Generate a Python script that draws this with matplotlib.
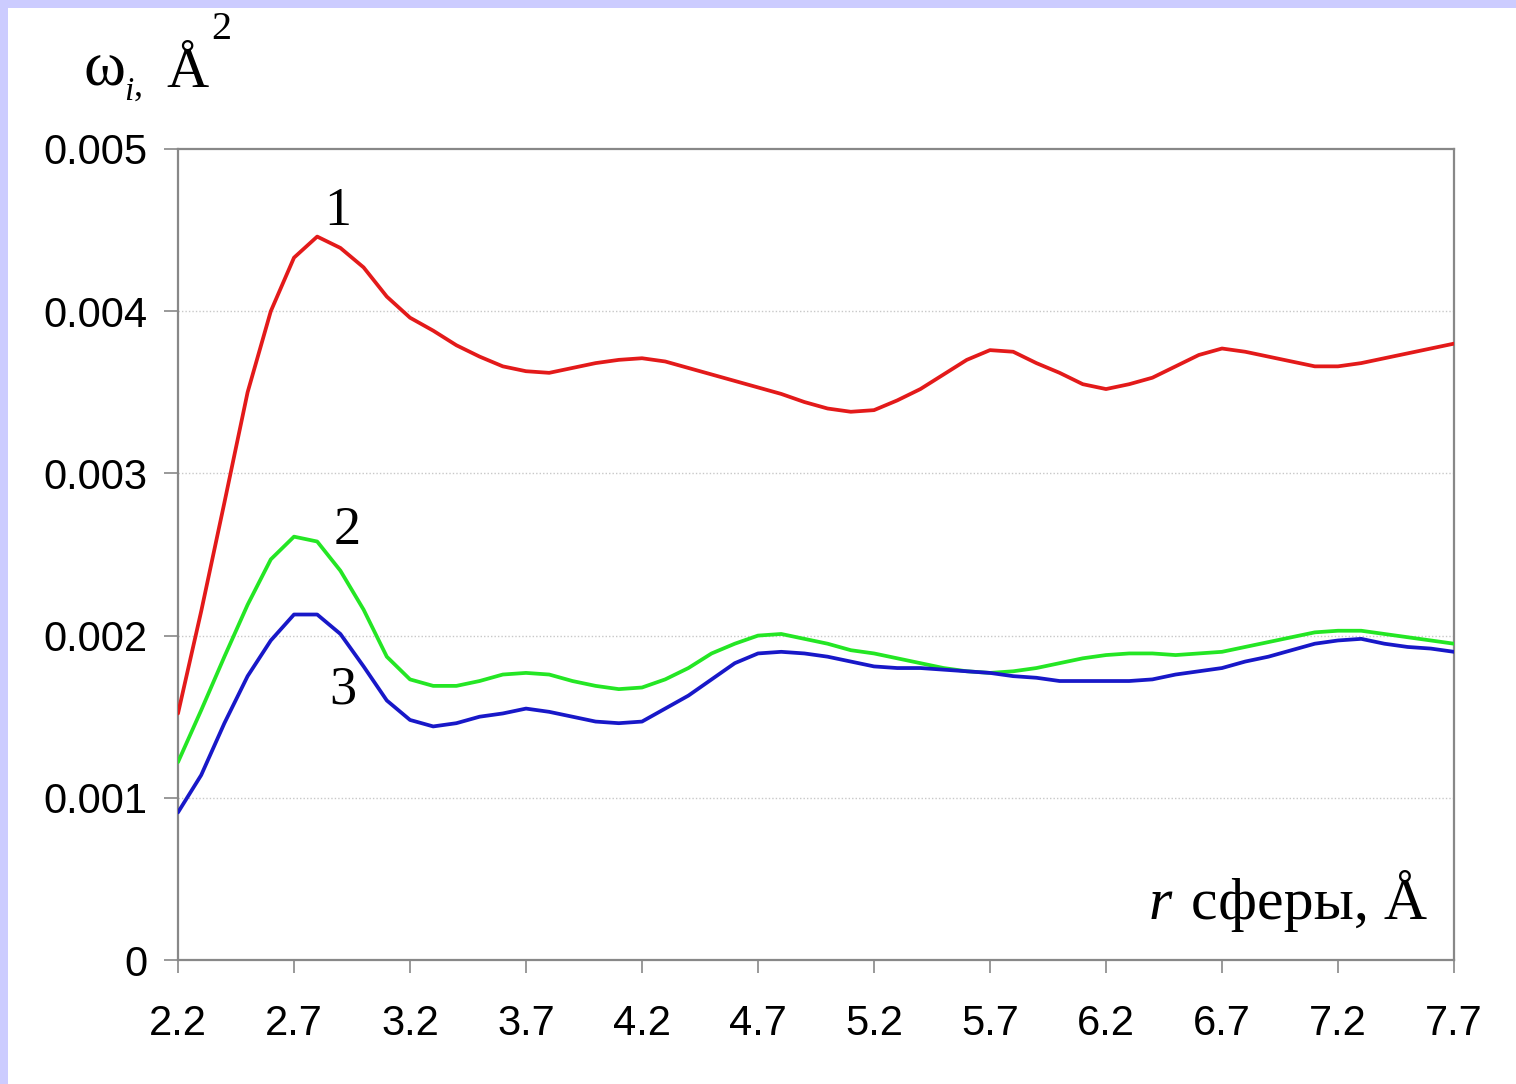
import matplotlib
matplotlib.use("Agg")
import matplotlib.pyplot as plt
from matplotlib.patches import Rectangle

r_values = [2.2, 2.3, 2.4, 2.5, 2.6, 2.7, 2.8, 2.9, 3.0, 3.1, 3.2, 3.3, 3.4, 3.5,
            3.6, 3.7, 3.8, 3.9, 4.0, 4.1, 4.2, 4.3, 4.4, 4.5, 4.6, 4.7, 4.8, 4.9,
            5.0, 5.1, 5.2, 5.3, 5.4, 5.5, 5.6, 5.7, 5.8, 5.9, 6.0, 6.1, 6.2, 6.3,
            6.4, 6.5, 6.6, 6.7, 6.8, 6.9, 7.0, 7.1, 7.2, 7.3, 7.4, 7.5, 7.6, 7.7]

series1 = [0.00152, 0.00215, 0.00282, 0.00350, 0.00400, 0.00433, 0.00446, 0.00439,
           0.00427, 0.00409, 0.00396, 0.00388, 0.00379, 0.00372, 0.00366, 0.00363,
           0.00362, 0.00365, 0.00368, 0.00370, 0.00371, 0.00369, 0.00365, 0.00361,
           0.00357, 0.00353, 0.00349, 0.00344, 0.00340, 0.00338, 0.00339, 0.00345,
           0.00352, 0.00361, 0.00370, 0.00376, 0.00375, 0.00368, 0.00362, 0.00355,
           0.00352, 0.00355, 0.00359, 0.00366, 0.00373, 0.00377, 0.00375, 0.00372,
           0.00369, 0.00366, 0.00366, 0.00368, 0.00371, 0.00374, 0.00377, 0.00380]

series2 = [0.00122, 0.00154, 0.00187, 0.00219, 0.00247, 0.00261, 0.00258, 0.00240,
           0.00216, 0.00187, 0.00173, 0.00169, 0.00169, 0.00172, 0.00176, 0.00177,
           0.00176, 0.00172, 0.00169, 0.00167, 0.00168, 0.00173, 0.00180, 0.00189,
           0.00195, 0.00200, 0.00201, 0.00198, 0.00195, 0.00191, 0.00189, 0.00186,
           0.00183, 0.00180, 0.00178, 0.00177, 0.00178, 0.00180, 0.00183, 0.00186,
           0.00188, 0.00189, 0.00189, 0.00188, 0.00189, 0.00190, 0.00193, 0.00196,
           0.00199, 0.00202, 0.00203, 0.00203, 0.00201, 0.00199, 0.00197, 0.00195]

series3 = [0.00091, 0.00114, 0.00146, 0.00175, 0.00197, 0.00213, 0.00213, 0.00201,
           0.00181, 0.00160, 0.00148, 0.00144, 0.00146, 0.00150, 0.00152, 0.00155,
           0.00153, 0.00150, 0.00147, 0.00146, 0.00147, 0.00155, 0.00163, 0.00173,
           0.00183, 0.00189, 0.00190, 0.00189, 0.00187, 0.00184, 0.00181, 0.00180,
           0.00180, 0.00179, 0.00178, 0.00177, 0.00175, 0.00174, 0.00172, 0.00172,
           0.00172, 0.00172, 0.00173, 0.00176, 0.00178, 0.00180, 0.00184, 0.00187,
           0.00191, 0.00195, 0.00197, 0.00198, 0.00195, 0.00193, 0.00192, 0.00190]

x_ticks = [2.2, 2.7, 3.2, 3.7, 4.2, 4.7, 5.2, 5.7, 6.2, 6.7, 7.2, 7.7]
x_ticklabels = ["2.2", "2.7", "3.2", "3.7", "4.2", "4.7", "5.2", "5.7", "6.2", "6.7", "7.2", "7.7"]
y_ticks = [0, 0.001, 0.002, 0.003, 0.004, 0.005]
y_ticklabels = ["0", "0.001", "0.002", "0.003", "0.004", "0.005"]
curve_labels = ["1", "2", "3"]

W, H = 1516, 1084
fig = plt.figure(figsize=(W / 100, H / 100), dpi=100)
fig.patch.set_facecolor("white")

# lavender frame on left and top
fig.patches.append(Rectangle((0, 0), 8 / W, 1, transform=fig.transFigure,
                             facecolor="#CCCCFF", edgecolor="none", zorder=0))
fig.patches.append(Rectangle((0, 1 - 8 / H), 1, 8 / H, transform=fig.transFigure,
                             facecolor="#CCCCFF", edgecolor="none", zorder=0))

L, R, T, B = 178, 1454, 149, 960
ax = fig.add_axes([L / W, 1 - B / H, (R - L) / W, (B - T) / H])

kw = dict(lw=2.7, solid_joinstyle="round", solid_capstyle="round")
ax.plot(r_values, series1, color="#E31A1A", zorder=3, **kw)
ax.plot(r_values, series2, color="#24E624", zorder=3, **kw)
ax.plot(r_values, series3, color="#1818C8", zorder=4, **kw)

ax.set_xlim(2.2, 7.7)
ax.set_ylim(0, 0.005)
ax.set_xticks(x_ticks)
ax.set_xticklabels(x_ticklabels)
ax.set_yticks(y_ticks)
ax.set_yticklabels(y_ticklabels)

for s in ax.spines.values():
    s.set_color("#888888")
    s.set_linewidth(1.6)

ax.tick_params(axis="y", direction="out", length=10, width=1.2, color="#888888",
               labelsize=30, pad=12)
ax.tick_params(axis="x", direction="out", length=9, width=1.2, color="#888888",
               labelsize=30, pad=23)
for lab in ax.get_xticklabels() + ax.get_yticklabels():
    lab.set_fontfamily("Liberation Sans")

ax.set_axisbelow(True)
for yv in y_ticks[1:-1]:
    ax.axhline(yv, color="#C8C8C8", lw=1.0, ls=(0, (1, 1.5)), zorder=1)

serif = "Liberation Serif"
# curve numbers
ax.text(2.89, 0.00446, curve_labels[0], fontsize=39, family=serif, ha="center", va="bottom")
ax.text(2.93, 0.00249, curve_labels[1], fontsize=39, family=serif, ha="center", va="bottom")
ax.text(2.91, 0.00151, curve_labels[2], fontsize=39, family=serif, ha="center", va="bottom")

def fx(px):
    return px / W

def fy(py):
    return 1 - py / H

# y axis label  ω_i, Å^2
fig.text(fx(84), fy(86), "ω", fontsize=46, family=serif, ha="left", va="baseline")
fig.text(fx(124), fy(100), "i", fontsize=24, family=serif, style="italic", ha="left", va="baseline")
fig.text(fx(134), fy(96), ",", fontsize=26, family=serif, ha="left", va="baseline")
fig.text(fx(166), fy(87), "Å", fontsize=42, family=serif, ha="left", va="baseline")
fig.text(fx(211), fy(39), "2", fontsize=29, family=serif, ha="left", va="baseline")

# x axis label  r сферы, Å
fig.text(fx(1427), fy(919), "сферы, Å", fontsize=43, family=serif, ha="right", va="baseline")
fig.text(fx(1149), fy(919), "r", fontsize=43, family=serif, style="italic", ha="left", va="baseline")

fig.savefig("out.png", dpi=100, facecolor=fig.get_facecolor())
